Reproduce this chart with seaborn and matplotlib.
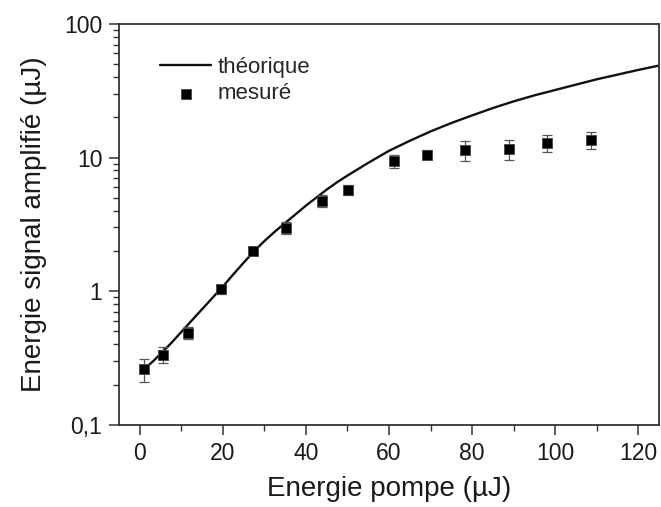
import numpy as np
import pandas as pd
import seaborn as sns
import matplotlib.pyplot as plt
from matplotlib.ticker import LogLocator, NullFormatter, MultipleLocator

# theoretical curve
theo_x = [1, 3, 5, 7.5, 10, 12.5, 15, 17.5, 20, 22.5, 25, 27.5, 30, 32.5, 35, 37.5, 40,
          42.5, 45, 47.5, 50, 55, 60, 65, 70, 75, 80, 85, 90, 95, 100, 105, 110, 115, 120, 125]
theo_y = [0.260, 0.295, 0.339, 0.407, 0.495, 0.603, 0.733, 0.891, 1.084, 1.334, 1.633,
          1.986, 2.371, 2.786, 3.236, 3.758, 4.365, 5.012, 5.754, 6.531, 7.328, 9.12,
          11.22, 13.34, 15.67, 18.11, 20.65, 23.44, 26.30, 29.17, 31.99, 35.08, 38.46,
          41.69, 45.19, 48.75]

# measured points with error bars
mes_x = [1.1, 5.5, 11.5, 19.5, 27.3, 35.3, 43.9, 50.2, 61.1, 69.2, 78.2, 89.0, 98.1, 108.7]
mes_y = [0.26, 0.335, 0.49, 1.03, 2.0, 2.97, 4.75, 5.74, 9.4, 10.5, 11.4, 11.6, 12.9, 13.5]
mes_err = [0.05, 0.045, 0.05, 0.08, 0.15, 0.3, 0.45, 0.5, 1.0, 0.8, 2.0, 2.0, 1.9, 2.0]

sns.set_style("ticks")
plt.rcParams['font.family'] = ['Liberation Sans', 'DejaVu Sans']

fig = plt.figure(figsize=(6.61, 5.07), dpi=100)
ax = fig.add_axes([0.18, 0.162, 0.817, 0.791])

df_t = pd.DataFrame({'x': theo_x, 'y': theo_y})
df_m = pd.DataFrame({'x': mes_x, 'y': mes_y})

sns.lineplot(data=df_t, x='x', y='y', color='#111111', lw=1.7, ax=ax, label='théorique')
ax.errorbar(mes_x, mes_y, yerr=mes_err, fmt='none', ecolor='#555555', elinewidth=0.9,
            capsize=3.5, capthick=0.9, zorder=2)
sns.scatterplot(data=df_m, x='x', y='y', marker='s', s=60, color='black',
                edgecolor='#444444', linewidth=0.6, ax=ax, label='mesuré', zorder=3)

ax.set_yscale('log')
ax.set_xlim(-5, 125)
ax.set_ylim(0.1, 100)
ax.set_xticks([0, 20, 40, 60, 80, 100, 120])
ax.xaxis.set_minor_locator(MultipleLocator(10))
ax.set_yticks([0.1, 1, 10, 100], ['0,1', '1', '10', '100'])
ax.yaxis.set_minor_locator(LogLocator(base=10, subs=np.arange(2, 10)))
ax.yaxis.set_minor_formatter(NullFormatter())

for s in ax.spines.values():
    s.set_color('#333333')
    s.set_linewidth(1.3)
ax.tick_params(axis='both', which='major', direction='out', length=7, width=1.1,
               labelsize=16.5, colors='#333333', labelcolor='#1a1a1a', pad=5)
ax.tick_params(axis='both', which='minor', direction='out', length=4, width=1.0, colors='#333333')
ax.tick_params(top=False, right=False, which='both')

ax.set_xlabel('Energie pompe (µJ)', fontsize=20, color='#1a1a1a', labelpad=8)
ax.set_ylabel('Energie signal amplifié (µJ)', fontsize=20, color='#1a1a1a', labelpad=12)

ax.legend(loc='upper left', bbox_to_anchor=(0.06, 0.94), frameon=False, fontsize=16,
          handlelength=2.3, handletextpad=0.3, labelspacing=0.25, borderaxespad=0)

fig.savefig('out.png', dpi=100)
